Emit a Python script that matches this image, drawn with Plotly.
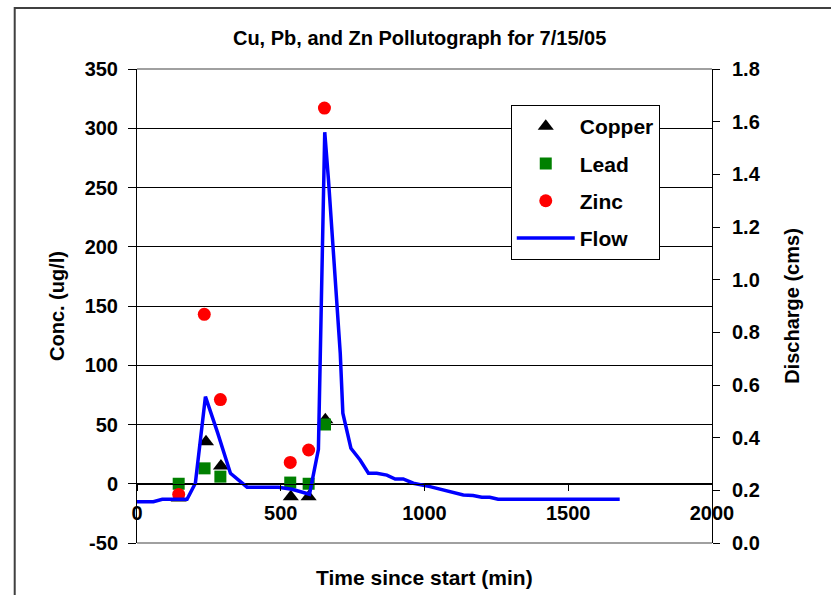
import plotly.graph_objects as go

# Sampling times (min) and concentrations (ug/l) for each metal
copper_t = [145, 240, 292, 535, 597, 655]
copper_c = [-12, 35.5, 15, -11, -11, 54]
lead_t = [145, 235, 290, 533, 597, 654]
lead_c = [0, 13, 6, 1, 0, 50]
zinc_t = [145, 234, 290, 533, 597, 652]
zinc_c = [-9, 143, 71, 18, 28.5, 317]

# Discharge hydrograph (cms)
flow_t = [0, 57, 88, 174, 203, 238, 280, 325, 383, 492, 539, 600, 631, 653,
          666, 707, 716, 744, 776, 805, 834, 869, 898, 926, 961, 1019, 1135,
          1169, 1199, 1227, 1256, 1679]
flow_q = [0.157, 0.157, 0.166, 0.166, 0.227, 0.556, 0.42, 0.265, 0.212, 0.212,
          0.204, 0.185, 0.356, 1.56, 1.379, 0.720, 0.493, 0.360, 0.315, 0.265,
          0.265, 0.258, 0.243, 0.243, 0.227, 0.214, 0.182, 0.180, 0.174,
          0.174, 0.166, 0.166]

# Axis tick values and labels
conc_ticks = [-50, 0, 50, 100, 150, 200, 250, 300, 350]
conc_labels = ["-50", "0", "50", "100", "150", "200", "250", "300", "350"]

FONT = "Liberation Sans, Arial, sans-serif"
bold = dict(family=FONT, size=20, color="black", weight="bold")
bold_big = dict(family=FONT, size=21, color="black", weight="bold")

fig = go.Figure()
fig.add_trace(go.Scatter(x=copper_t, y=copper_c, mode="markers", name="Copper",
                         legendgroup="cu",
                         marker=dict(symbol="triangle-up", size=14, color="black")))
fig.add_trace(go.Scatter(x=lead_t, y=lead_c, mode="markers", name="Lead",
                         legendgroup="pb",
                         marker=dict(symbol="square", size=12, color="#008000")))
fig.add_trace(go.Scatter(x=zinc_t, y=zinc_c, mode="markers", name="Zinc",
                         legendgroup="zn",
                         marker=dict(symbol="circle", size=13, color="#FF0000")))
fig.add_trace(go.Scatter(x=flow_t, y=flow_q, mode="lines", name="Flow",
                         legendgroup="q", yaxis="y2",
                         line=dict(color="#0000FF", width=3.5)))

fig.update_layout(
    width=831, height=595,
    margin=dict(l=136.5, r=118.5, t=69, b=52),
    paper_bgcolor="white", plot_bgcolor="white",
    showlegend=True,
    title=dict(text="Cu, Pb, and Zn Pollutograph for 7/15/05",
               x=0.505, xanchor="center", y=1 - 38 / 595, yanchor="middle",
               font=dict(family=FONT, size=20, color="black", weight="bold")),
    xaxis=dict(range=[0, 2000], dtick=500, anchor="free", position=0.125,
               showline=True, linecolor="black", linewidth=1,
               ticks="outside", ticklen=6, tickcolor="black",
               showgrid=False, zeroline=False, tickfont=bold,
               ticklabelstandoff=5),
    yaxis=dict(range=[-50, 350], tickmode="array", tickvals=conc_ticks,
               ticktext=conc_labels, showline=True, linecolor="black",
               linewidth=1, ticks="outside", ticklen=8, tickcolor="black",
               showgrid=True, gridcolor="black", gridwidth=1, zeroline=False,
               tickfont=bold, ticklabelstandoff=6,
               title=dict(text="Conc. (ug/l)", font=bold, standoff=14)),
    yaxis2=dict(range=[0, 1.8], dtick=0.2, tickformat=".1f", overlaying="y",
                side="right", showline=True, linecolor="black", linewidth=1,
                ticks="outside", ticklen=7, tickcolor="black",
                showgrid=False, zeroline=False, tickfont=bold,
                ticklabelstandoff=8,
                title=dict(text="Discharge (cms)", font=bold, standoff=25)),
    legend=dict(x=0.65, y=0.924, xanchor="left", yanchor="top",
                bgcolor="white", bordercolor="black", borderwidth=1,
                font=bold_big, itemwidth=58, tracegroupgap=7,
                itemsizing="trace"),
    annotations=[dict(text="Time since start (min)", xref="paper", yref="paper",
                      x=0.5, y=-34 / 474, xanchor="center", yanchor="middle",
                      showarrow=False, font=bold_big)],
    shapes=[
        # gray plot-area edges at top and bottom
        dict(type="line", xref="paper", yref="paper", x0=0, x1=1, y0=1, y1=1,
             line=dict(color="#808080", width=1.5), layer="above"),
        dict(type="line", xref="paper", yref="paper", x0=0, x1=1, y0=0, y1=0,
             line=dict(color="#808080", width=1.5), layer="above"),
        # outer chart frame (top and left edges)
        dict(type="rect", xref="paper", yref="paper",
             x0=(14 - 136.5) / 576, x1=1.5, y0=-0.5, y1=(543 - 8) / 474,
             line=dict(color="#404040", width=2), layer="below"),
    ],
)

fig.write_html("out.html")
